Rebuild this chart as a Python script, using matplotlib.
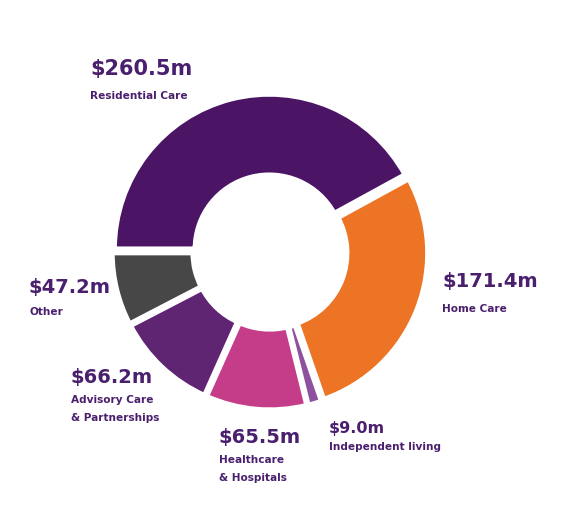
# Donut chart of funding by service area
# %%
import numpy as np
import matplotlib.pyplot as plt

# %%
# values in $m
services = ['Residential Care', 'Home Care', 'Independent living',
            'Healthcare\n& Hospitals', 'Advisory Care\n& Partnerships', 'Other']
amounts = [260.5, 171.4, 9.0, 65.5, 66.2, 47.2]
colours = ['#4b1465', '#ec7424', '#8d519f', '#c53c89', '#5f2573', '#474747']

text_col = '#4a1f6e'

# %%
W, H = 567, 527
fig = plt.figure(figsize=(W / 100, H / 100), dpi=100)
ax = fig.add_axes([0, 0, 1, 1])

cx, cy = 270, H - 252   # centre of the ring in pixels
r_out = 155
r_in = 74

ax.pie(amounts, colors=colours, radius=r_out, center=(cx, cy),
       startangle=180, counterclock=False,
       explode=[3] * len(amounts),
       wedgeprops=dict(width=r_out - r_in, edgecolor='white',
                       linewidth=3.8, joinstyle='round'))

ax.set_xlim(0, W)
ax.set_ylim(0, H)
ax.set_aspect('equal')
ax.axis('off')

# %%
# labels: value on top, name below (positions in image pixels, y from top)
label_pos = [(90, 69, 96), (442, 282, 309), (329, 428, 447),
             (219, 437, 460), (71, 377, 400), (29, 288, 312)]
val_size = [15, 14, 11.5, 14, 14, 14]
fam = ['DejaVu Sans']
for i, (x, y_val, y_name) in enumerate(label_pos):
    ax.text(x, H - y_val, '$%.1fm' % amounts[i], fontsize=val_size[i],
            fontweight='bold', color=text_col, family=fam,
            ha='left', va='center')
    for k, line in enumerate(services[i].split('\n')):
        ax.text(x, H - y_name - 18 * k, line, fontsize=7.6, fontweight='bold',
                color=text_col, family=fam, ha='left', va='center')

fig.savefig('out.png', dpi=100)
